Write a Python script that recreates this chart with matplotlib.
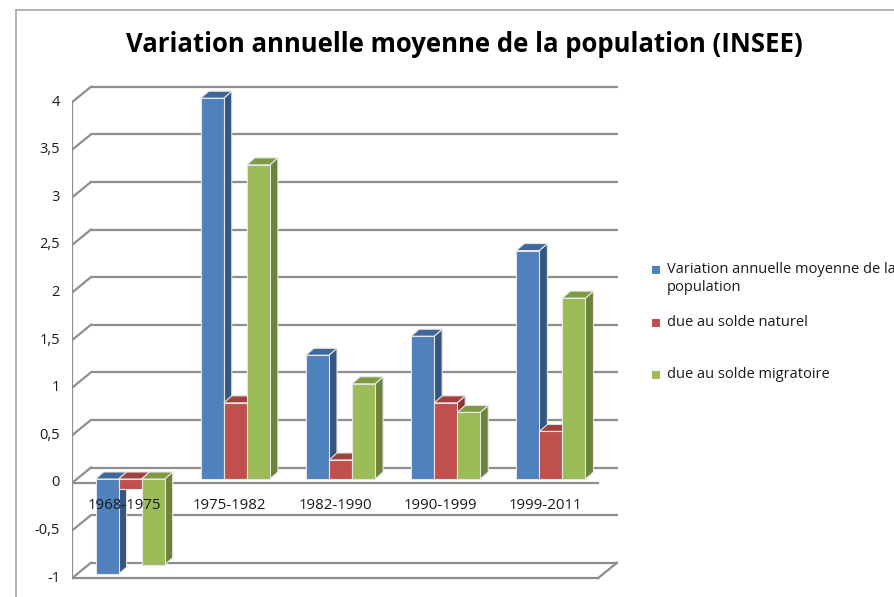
import matplotlib
matplotlib.use("Agg")
import matplotlib.pyplot as plt
from matplotlib.patches import Polygon
from matplotlib.lines import Line2D

categories = ["1968-1975", "1975-1982", "1982-1990", "1990-1999", "1999-2011"]
series_names = ["Variation annuelle moyenne de la\npopulation",
                "due au solde naturel",
                "due au solde migratoire"]
variation_totale = [-1.0, 4.0, 1.3, 1.5, 2.4]
solde_naturel = [-0.1, 0.8, 0.2, 0.8, 0.5]
solde_migratoire = [-0.9, 3.3, 1.0, 0.7, 1.9]
yticks = [-1, -0.5, 0, 0.5, 1, 1.5, 2, 2.5, 3, 3.5, 4]
ytick_labels = ["-1", "-0,5", "0", "0,5", "1", "1,5", "2", "2,5", "3", "3,5", "4"]

front_cols = ["#4F81BD", "#C0504D", "#9BBB59"]
side_cols = ["#35567F", "#8A3836", "#6B833A"]
top_cols = ["#3F6797", "#A0413E", "#7E9A45"]

W, H = 894, 597
fig = plt.figure(figsize=(W / 100, H / 100), dpi=100)

# axes in pixel geometry
px_left, px_right, px_top, px_bot = 72, 618, 80, 582
ax = fig.add_axes([px_left / W, 1 - px_bot / H, (px_right - px_left) / W, (px_bot - px_top) / H])
ax.set_axis_off()
xpu = 105.2  # px per category unit
ypu = 95.2   # px per value unit
y0px = 483
ax.set_xlim(-0.5, -0.5 + (px_right - px_left) / xpu)
ax.set_ylim((y0px - px_bot) / ypu, (y0px - px_top) / ypu)

gc = "#8E8E8E"
wdx, wdy = 19 / xpu, 15.5 / ypu
bdx, bdy = 8 / xpu, 7 / ypu
offx, offy = 5.5 / xpu, 4 / ypu
xmin = -0.5
xmax_front = len(categories) - 0.5
xback_end = ax.get_xlim()[1]

# walls / gridlines
for v in yticks:
    ax.plot([xmin + wdx, xback_end], [v + wdy, v + wdy], color=gc, lw=1.6, zorder=1, solid_capstyle="butt")
    ax.plot([xmin, xmin + wdx], [v, v + wdy], color=gc, lw=1.6, zorder=1)
ax.plot([xmin, xmin], [yticks[0], yticks[-1]], color=gc, lw=1.6, zorder=1)
ax.plot([xmin, xmax_front], [0, 0], color=gc, lw=1.6, zorder=1)
ax.plot([xmin, xmax_front], [yticks[0], yticks[0]], color=gc, lw=1.6, zorder=1)
ax.plot([xmax_front, xmax_front + wdx], [yticks[0], yticks[0] + wdy], color=gc, lw=1.6, zorder=1)

# bars
bw = 0.219
data = [variation_totale, solde_naturel, solde_migratoire]
z = 3
for i, cat in enumerate(categories):
    for j, vals in enumerate(data):
        v = vals[i]
        xl = i + offx - 1.5 * bw + j * bw
        ax.bar(xl, v, width=bw, bottom=offy, align="edge", color=front_cols[j],
               edgecolor="#E6E6E6", linewidth=0.8, zorder=z + 1)
        lo, hi = offy + min(v, 0), offy + max(v, 0)
        xr = xl + bw
        side = Polygon([(xr, lo), (xr + bdx, lo + bdy), (xr + bdx, hi + bdy), (xr, hi)],
                       closed=True, facecolor=side_cols[j], edgecolor="#E6E6E6", lw=0.8, zorder=z)
        top = Polygon([(xl, hi), (xr, hi), (xr + bdx, hi + bdy), (xl + bdx, hi + bdy)],
                      closed=True, facecolor=top_cols[j], edgecolor="#E6E6E6", lw=0.8, zorder=z)
        ax.add_patch(side)
        ax.add_patch(top)
        z += 2
    ax.text(i, -0.24, cat, ha="center", va="center", fontsize=10.8, family="Open Sans",
            color="#1A1A1A", zorder=50)

# y tick labels
for v, lab in zip(yticks, ytick_labels):
    ax.text(xmin - 12 / xpu, v, lab, ha="right", va="center", fontsize=10.5,
            family="Open Sans", color="#1A1A1A")

# title, fitted to the reference width
title = fig.text(464 / W, 1 - 45 / H, "Variation annuelle moyenne de la population (INSEE)",
                 ha="center", va="center", fontsize=20, fontweight="bold", family="Open Sans",
                 color="black")
r = fig.canvas.get_renderer()
tw = title.get_window_extent(renderer=r).width
title.set_fontsize(20 * 678 / tw)

# legend (manual, clipped at figure edge)
leg_y = [270, 323, 375]
for j, name in enumerate(series_names):
    fig.patches.append(plt.Rectangle((652 / W, 1 - (leg_y[j] + 4) / H), 8 / W, 8 / H,
                                     transform=fig.transFigure, facecolor=front_cols[j],
                                     edgecolor="none"))
    fig.text(667 / W, 1 - (leg_y[j] - 8) / H, name, ha="left", va="top", fontsize=10.5,
             family="Open Sans", color="#1A1A1A", linespacing=1.3)

# chart border
fig.lines.append(Line2D([16 / W, 16 / W], [0, 1 - 10 / H], transform=fig.transFigure, color="#A6A6A6", lw=1.2))
fig.lines.append(Line2D([16 / W, 1], [1 - 10 / H, 1 - 10 / H], transform=fig.transFigure, color="#A6A6A6", lw=1.2))

fig.savefig("out.png", dpi=100)
